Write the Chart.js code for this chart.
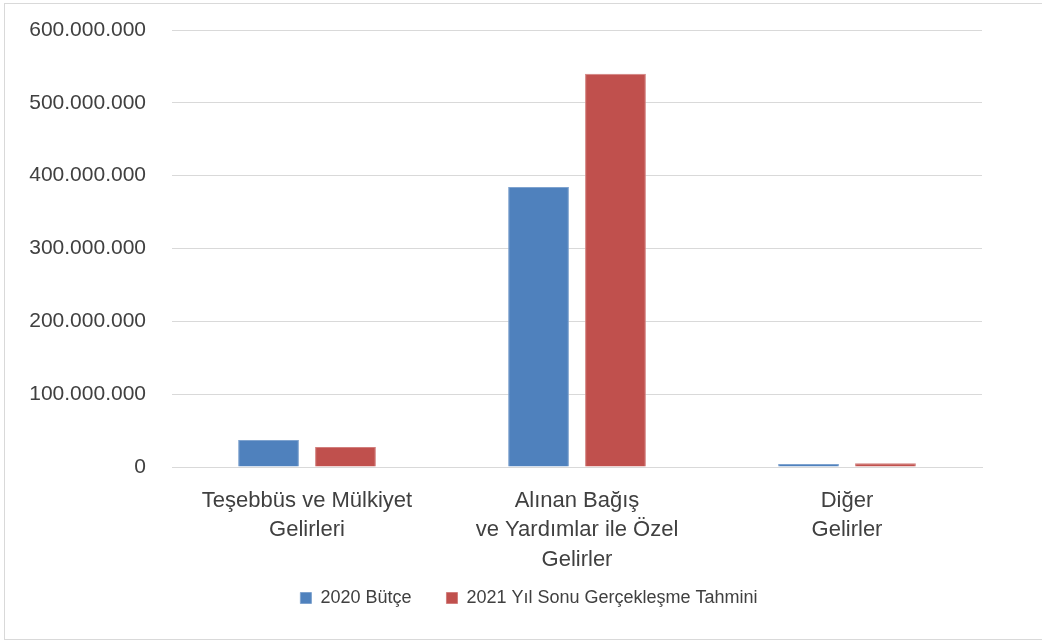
<!DOCTYPE html>
<html>
<head>
<meta charset="utf-8">
<script src="https://cdn.jsdelivr.net/npm/chart.js@4"></script>
<style>
  html, body { margin: 0; padding: 0; background: #fff; overflow: hidden; }
  #frame {
    position: absolute; left: 4px; top: 3px; width: 1100px; height: 637px;
    border: 1px solid #d9d9d9; box-sizing: border-box;
  }
  #wrap { position: absolute; left: 0; top: 0; width: 1042px; height: 644px; }
</style>
</head>
<body>
<div id="frame"></div>
<div id="wrap"><canvas id="chart" width="1042" height="644"></canvas></div>
<script>
// chart values
const categories = [
  ["Teşebbüs ve Mülkiyet", "Gelirleri"],
  ["Alınan Bağış", "ve Yardımlar ile Özel", "Gelirler"],
  ["Diğer", "Gelirler"]
];
const seriesNames = ["2020 Bütçe", "2021 Yıl Sonu Gerçekleşme Tahmini"];
const butce2020 = [37000000, 384500000, 4000000];
const tahmin2021 = [27500000, 540000000, 5000000];
const yTicks = [0, 100000000, 200000000, 300000000, 400000000, 500000000, 600000000];

const textColor = "#404040";
const fontFamily = "'Liberation Sans', Arial, sans-serif";

function formatNum(v) {
  return v.toString().replace(/\B(?=(\d{3})+(?!\d))/g, ".");
}

const ctx = document.getElementById("chart").getContext("2d");
new Chart(ctx, {
  type: "bar",
  data: {
    labels: categories,
    datasets: [{
      label: seriesNames[0],
      data: butce2020,
      backgroundColor: "#4F81BD",
      borderColor: "#7fa3cf",
      borderWidth: 1
    }, {
      label: seriesNames[1],
      data: tahmin2021,
      backgroundColor: "#C0504D",
      borderColor: "#d27f7d",
      borderWidth: 1
    }]
  },
  options: {
    responsive: false,
    animation: false,
    categoryPercentage: 0.57,
    barPercentage: 0.79,
    layout: {
      padding: { top: 30, right: 0, bottom: 27, left: 16 }
    },
    plugins: {
      legend: {
        position: "bottom",
        labels: {
          color: textColor,
          font: { family: fontFamily, size: 18 },
          boxWidth: 11,
          boxHeight: 11,
          padding: 10,
          generateLabels: function(chart) {
            const items = Chart.defaults.plugins.legend.labels.generateLabels(chart);
            // widen the gap after the first item like the original
            items[0].text = items[0].text + "     ";
            return items;
          }
        }
      },
      tooltip: { enabled: false }
    },
    scales: {
      y: {
        min: 0,
        max: 600000000,
        afterBuildTicks: function(scale) {
          scale.ticks = yTicks.map(function(v) { return { value: v }; });
        },
        afterFit: function(scale) {
          scale.width = 156;
        },
        border: { display: false },
        grid: {
          color: "#d9d9d9",
          drawTicks: true,
          tickLength: 26,
          tickColor: "rgba(0,0,0,0)"
        },
        ticks: {
          color: textColor,
          font: { family: fontFamily, size: 21 },
          padding: 0,
          callback: function(v) { return formatNum(v); }
        }
      },
      // empty right margin, keeps the plot right edge where the original has it
      spacer: {
        type: "linear",
        position: "right",
        afterFit: function(scale) {
          scale.width = 60;
        },
        border: { display: false },
        grid: { display: false, drawTicks: false },
        ticks: { display: false }
      },
      x: {
        afterFit: function(scale) {
          scale.height = 112;
        },
        border: { display: true, color: "#d9d9d9" },
        grid: { display: false },
        ticks: {
          color: textColor,
          font: { family: fontFamily, size: 22, lineHeight: 1.34 },
          padding: 11,
          maxRotation: 0
        }
      }
    }
  }
});
</script>
</body>
</html>
